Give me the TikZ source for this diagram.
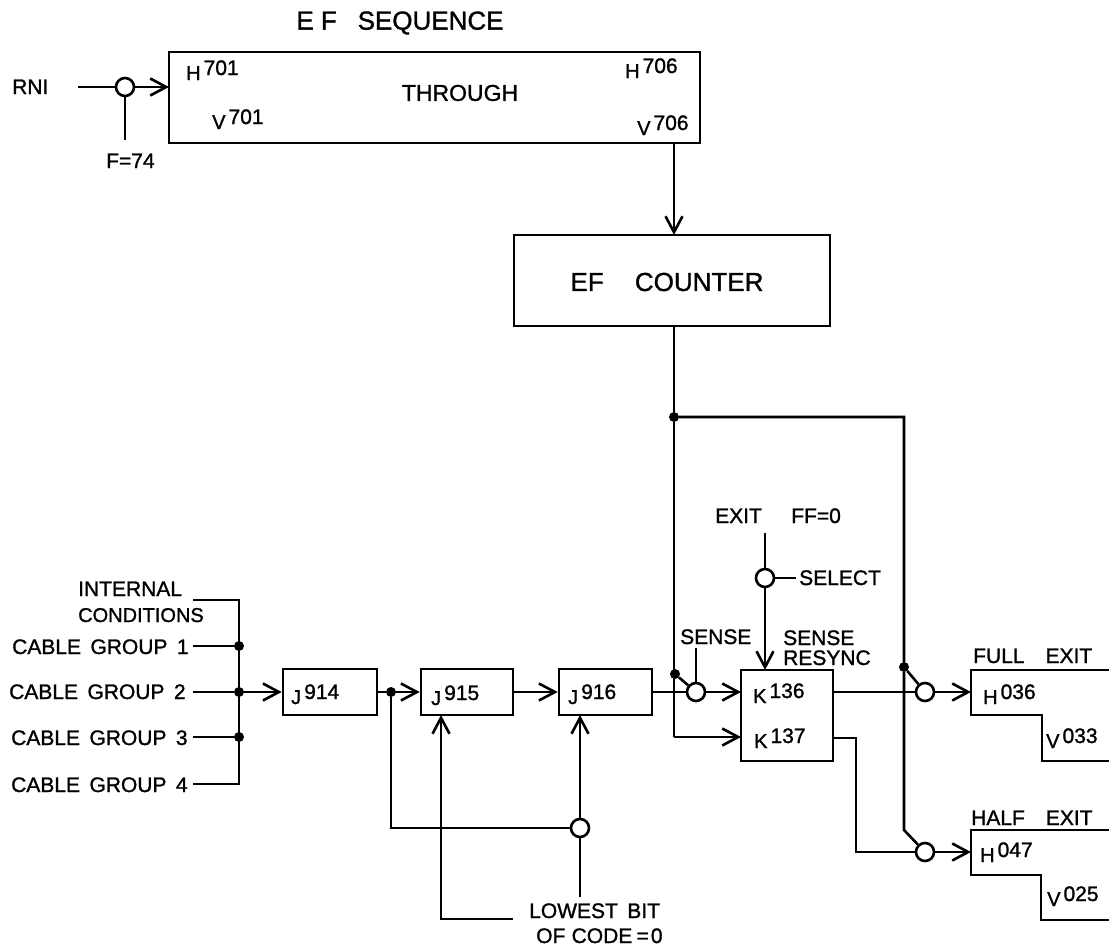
\documentclass[tikz,border=0pt]{standalone}
\usepackage{fontspec}
\setmainfont[RawFeature={embolden=1.2}]{Liberation Sans}
\usetikzlibrary{arrows.meta}
\newcommand{\regname}[2]{{\fontsize{20}{22}\selectfont #1}\hspace{3pt}\raisebox{5pt}{#2}}
\newcommand{\wordgap}{\hspace{0.45em}}
\newcommand{\widegap}{\hspace{1em}}
\tikzset{
  blockbox/.style={draw,line width=2.6pt,inner sep=0pt},
  gate/.style={draw,circle,line width=2.6pt,minimum size=18pt,inner sep=0pt},
  joint/.style={fill,circle,minimum size=10pt,inner sep=0pt},
  wire/.style={line width=2.6pt},
  flow/.style={wire,-{Straight Barb[length=16pt,width=17pt,line width=2.6pt]}},
  lab/.style={anchor=base west,inner sep=0pt,font=\fontsize{21}{23}\selectfont},
  biglab/.style={anchor=center,inner sep=0pt,font=\fontsize{26}{28}\selectfont}
}
\begin{document}
\begin{tikzpicture}[x=1pt,y=-1pt]
  \useasboundingbox (0,0) rectangle (1109,946);

  % boxes
  \node[blockbox,minimum width=531pt,minimum height=91pt] (seqbox) at (434.5,97.5) {};
  \node[blockbox,minimum width=316pt,minimum height=91pt] (efcounter) at (672,280.5) {};
  \node[blockbox,minimum width=94pt,minimum height=46pt] (jbox914) at (330,692) {};
  \node[blockbox,minimum width=92pt,minimum height=46pt] (jbox915) at (467,692) {};
  \node[blockbox,minimum width=93pt,minimum height=46pt] (jbox916) at (605.5,692) {};
  \node[blockbox,minimum width=92pt,minimum height=91pt] (kbox) at (787,715.5) {};
  \coordinate (fullin) at (971,692);
  \coordinate (halfin) at (971,852);
  \draw[wire] (1109,670) -- (971,670) -- (fullin) -- (971,715) -- (1042,715) -- (1042,761) -- (1109,761);
  \draw[wire] (1109,830) -- (971,830) -- (halfin) -- (971,875) -- (1041,875) -- (1041,920) -- (1109,920);

  % gates and joints
  \node[gate] (gatefn) at (125,87) {};
  \node[gate] (gatesense) at (696,692) {};
  \node[gate] (gateselect) at (765,578) {};
  \node[gate] (gatefull) at (925,692) {};
  \node[gate] (gatehalf) at (925,852) {};
  \node[gate] (gatelow) at (580,828) {};
  \node[joint] (jointtop) at (674,417) {};
  \node[joint] (jointsense) at (675,674) {};
  \node[joint] (jointfull) at (904,667) {};
  \node[joint] (jointone) at (239,646) {};
  \node[joint] (jointtwo) at (239,692) {};
  \node[joint] (jointthree) at (239,737) {};
  \node[joint] (jointloop) at (391,692) {};

  % free ends
  \coordinate (rniend) at (78,87);
  \coordinate (fend) at (125,140);
  \coordinate (seqin) at (169,87);
  \coordinate (seqout) at (674,143);
  \coordinate (efin) at (674,235);
  \coordinate (efout) at (674,326);
  \coordinate (trunkend) at (674,737);
  \coordinate (kin) at (741,737);
  \coordinate (ksense) at (741,692);
  \coordinate (kout) at (833,692);
  \coordinate (kouttwo) at (833,738);
  \coordinate (kturn) at (856,738);
  \coordinate (halfturn) at (856,852);
  \coordinate (riserturn) at (904,417);
  \coordinate (riserend) at (904,830);
  \coordinate (senseend) at (696,648);
  \coordinate (exitend) at (765,533);
  \coordinate (selectend) at (796,578);
  \coordinate (ktop) at (765,670);
  \coordinate (groupzero) at (193,600);
  \coordinate (trunkzero) at (239,600);
  \coordinate (groupone) at (193,646);
  \coordinate (grouptwo) at (193,692);
  \coordinate (groupthree) at (193,737);
  \coordinate (groupfour) at (193,784);
  \coordinate (trunkfour) at (239,784);
  \coordinate (loopturn) at (391,828);
  \coordinate (jin915) at (441,715);
  \coordinate (jin916) at (580,715);
  \coordinate (lowturn) at (441,919);
  \coordinate (lowend) at (513,919);
  \coordinate (lowdown) at (580,897);

  % top row
  \draw[wire] (rniend) -- (gatefn);
  \draw[wire] (fend) -- (gatefn);
  \draw[flow] (gatefn) -- (seqin);
  \draw[flow] (seqout) -- (efin);

  % counter output
  \draw[wire] (efout) -- (jointtop) -- (trunkend);
  \draw[flow] (trunkend) -- (kin);
  \draw[wire] (jointtop) -- (riserturn) -- (jointfull) -- (riserend) -- (gatehalf);
  \draw[wire] (jointfull) -- (gatefull);
  \draw[wire] (jointsense) -- (gatesense);

  % cable groups
  \draw[wire] (groupzero) -- (trunkzero) -- (trunkfour) -- (groupfour);
  \draw[wire] (groupone) -- (jointone);
  \draw[wire] (grouptwo) -- (jointtwo);
  \draw[wire] (groupthree) -- (jointthree);
  \draw[flow] (jointtwo) -- (jbox914);
  \draw[wire] (jbox914) -- (jointloop);
  \draw[flow] (jointloop) -- (jbox915);
  \draw[flow] (jbox915) -- (jbox916);
  \draw[wire] (jbox916) -- (gatesense);
  \draw[flow] (gatesense) -- (ksense);

  % lowest bit
  \draw[wire] (jointloop) -- (loopturn) -- (gatelow);
  \draw[flow] (gatelow) -- (jin916);
  \draw[wire] (lowdown) -- (gatelow);
  \draw[flow] (lowend) -- (lowturn) -- (jin915);

  % sense and exit
  \draw[wire] (senseend) -- (gatesense);
  \draw[wire] (exitend) -- (gateselect);
  \draw[wire,line width=1.5pt] (gateselect) -- (selectend);
  \draw[flow] (gateselect) -- (ktop);
  \draw[wire] (kout) -- (gatefull);
  \draw[flow] (gatefull) -- (fullin);
  \draw[wire] (kouttwo) -- (kturn) -- (halfturn) -- (gatehalf);
  \draw[flow] (gatehalf) -- (halfin);

  % texts
  \node[biglab] (titletext) at (400,23) {E F\hspace{0.8em}SEQUENCE};
  \node[biglab,font=\fontsize{23}{25}\selectfont] (throughtext) at (460,93) {THROUGH};
  \node[biglab] (countertext) at (667,282) {EF\hspace{1.2em}COUNTER};
  \node[lab] (rnitext) at (12,94) {RNI};
  \node[lab] (ftext) at (106,168) {F=74};
  \node[lab] (internaltext) at (78,596) {INTERNAL};
  \node[lab,font=\fontsize{20}{22}\selectfont] (conditionstext) at (78,622) {CONDITIONS};
  \node[lab] (groupi) at (12,654) {CABLE\wordgap GROUP\wordgap 1};
  \node[lab] (groupii) at (9,699) {CABLE\wordgap GROUP\wordgap 2};
  \node[lab] (groupiii) at (11,745) {CABLE\wordgap GROUP\wordgap 3};
  \node[lab] (groupiv) at (11,792) {CABLE\wordgap GROUP\wordgap 4};
  \node[lab] (lowesttext) at (529,918) {LOWEST\wordgap BIT};
  \node[lab] (codetext) at (536,943) {OF\hspace{0.3em}CODE\hspace{0.2em}=\hspace{0.1em}0};
  \node[lab] (sensetext) at (680,644) {SENSE};
  \node[lab] (senseonetext) at (783,645) {SENSE};
  \node[lab] (resynctext) at (783,665) {RESYNC};
  \node[lab] (exittext) at (715,523) {EXIT\hspace{1.4em}FF=0};
  \node[lab] (selecttext) at (799,585) {SELECT};
  \node[lab] (fulltext) at (973,663) {FULL\widegap EXIT};
  \node[lab] (halftext) at (971,825) {HALF\widegap EXIT};

  % register numbers
  \node[lab] (hreg701) at (186,80) {\regname{H}{701}};
  \node[lab] (vreg701) at (212,129) {\regname{V}{701}};
  \node[lab] (hreg706) at (625,78) {\regname{H}{706}};
  \node[lab] (vreg706) at (637,135) {\regname{V}{706}};
  \node[lab] (jreg914) at (291,704) {\regname{J}{914}};
  \node[lab] (jreg915) at (431,705) {\regname{J}{915}};
  \node[lab] (jreg916) at (568,704) {\regname{J}{916}};
  \node[lab] (kreg136) at (753,703) {\regname{K}{136}};
  \node[lab] (kreg137) at (754,748) {\regname{K}{137}};
  \node[lab] (hreg036) at (983,704) {\regname{H}{036}};
  \node[lab] (vreg033) at (1046,748) {\regname{V}{033}};
  \node[lab] (hreg047) at (980,862) {\regname{H}{047}};
  \node[lab] (vreg025) at (1047,906) {\regname{V}{025}};
\end{tikzpicture}
\end{document}
